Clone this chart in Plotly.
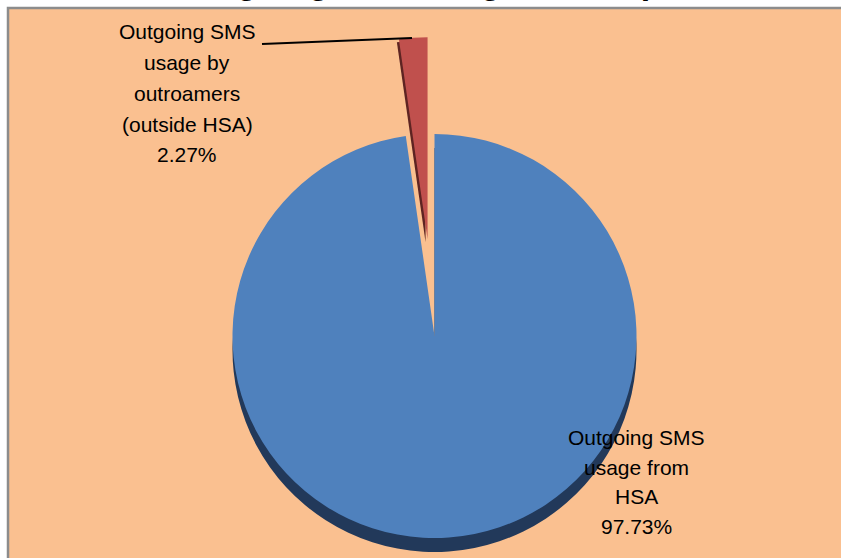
import math
import plotly.graph_objects as go

# ---- data ----
categories = ["Outgoing SMS usage from HSA", "Outgoing SMS usage by outroamers (outside HSA)"]
label_lines = [["Outgoing SMS", "usage from", "HSA"],
               ["Outgoing SMS", "usage by", "outroamers", "(outside HSA)"]]
values = [97.73, 2.27]
title_text = "Outgoing SMS usage breakup"

# ---- style ----
W, H = 841, 558
BG = "#FAC090"
BLUE = "#4F81BD"
BLUE_DARK = "#22395A"
RED = "#C0504D"
RED_DARK = "#5E2422"
CLEAR = "rgba(0,0,0,0)"
FONT = "Liberation Sans, Arial, sans-serif"


def px(x):
    return x / W


def py(y):
    return 1 - y / H


def dom(cx, cy, r):
    return dict(x=[px(cx - r), px(cx + r)], y=[py(cy + r), py(cy - r)])


CX, CY, R = 434.5, 336, 202
PULL = 97
total = sum(values)
# mid-angle of red slice (clockwise from 12 o'clock)
start = 360 * values[0] / total
mid = math.radians((start + 360) / 2)
rcx = CX + PULL * math.sin(mid)
rcy = CY - PULL * math.cos(mid)

common = dict(values=values, labels=categories, sort=False, direction="clockwise",
              rotation=0, textinfo="none", hoverinfo="label+percent", showlegend=False)

fig = go.Figure()
# 3D rim (shadow)
fig.add_trace(go.Pie(**common, domain=dom(CX, CY + 14, R),
                     marker=dict(colors=[BLUE_DARK, CLEAR], line=dict(width=0))))
# main blue slice
fig.add_trace(go.Pie(**common, domain=dom(CX, CY, R),
                     marker=dict(colors=[BLUE, CLEAR], line=dict(width=0))))
# exploded red slice: side + face
fig.add_trace(go.Pie(**common, domain=dom(rcx - 2, rcy + 3, R),
                     marker=dict(colors=[CLEAR, RED_DARK], line=dict(width=0))))
fig.add_trace(go.Pie(**common, domain=dom(rcx, rcy, R),
                     marker=dict(colors=[CLEAR, RED], line=dict(width=0))))

annotations = []
pcts = [f"{100 * v / total:.2f}%" for v in values]
label_pos = [(636, 445, 29.5), (187, 39, 30.8)]
for lines, pct, (lx, ly, step) in zip(label_lines, pcts, label_pos):
    for i, t in enumerate(lines + [pct]):
        base = ly + i * step
        annotations.append(dict(text=t, x=px(lx), y=py(base - 7.3), xref="paper", yref="paper",
                                xanchor="center", yanchor="middle", showarrow=False,
                                font=dict(family=FONT, size=21, color="black")))
# title (mostly outside the visible area, as in the reference)
annotations.append(dict(text="<b>" + title_text + "</b>", x=px(420), y=py(-18), xref="paper", yref="paper",
                        xanchor="center", yanchor="middle", showarrow=False,
                        font=dict(family=FONT, size=34, color="black")))

shapes = [
    dict(type="rect", xref="paper", yref="paper", x0=px(8), y0=-0.05, x1=1.05, y1=py(8),
         fillcolor=BG, line=dict(color="#8C8C8C", width=2.5), layer="below"),
    dict(type="line", xref="paper", yref="paper", x0=px(262), y0=py(44), x1=px(412), y1=py(38),
         line=dict(color="black", width=2)),
]

fig.update_layout(width=W, height=H, margin=dict(l=0, r=0, t=0, b=0),
                  paper_bgcolor="white", plot_bgcolor="white",
                  annotations=annotations, shapes=shapes)

fig.write_html("out.html", config={"displayModeBar": False},
               post_script="document.body.style.margin='0';document.body.style.overflow='hidden';")
